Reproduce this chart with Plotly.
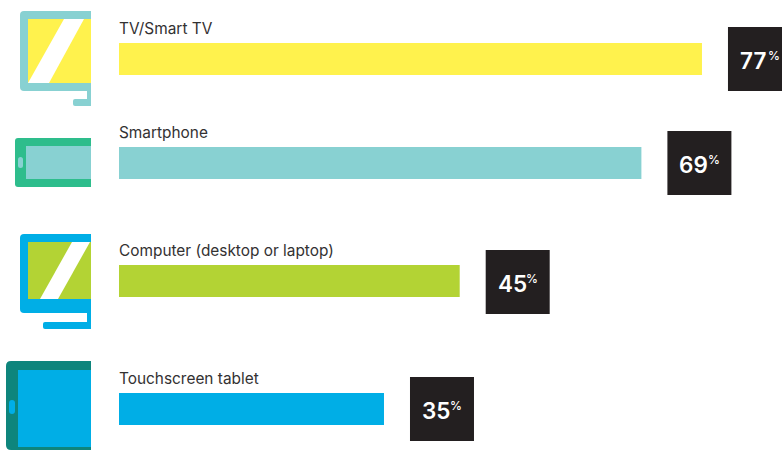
import plotly.graph_objects as go

W, H = 782, 450

# Survey values
categories = ["TV/Smart TV", "Smartphone", "Computer (desktop or laptop)", "Touchscreen tablet"]
shares = [77, 69, 45, 35]
bar_colors = ["#FFF24D", "#88D1D2", "#B3D334", "#00AEE6"]

# Vertical row centres, in pixels from the top
rows = [59, 163, 281, 409]
tile_rows = [59, 163, 282, 409]

PX_PER_UNIT = 7.571
ORIGIN = 119
INK = "#231F20"
FONT = "Inter"

fig = go.Figure()
fig.add_bar(
    x=shares, y=rows, orientation="h", width=32,
    marker=dict(color=bar_colors, line_width=0),
    hoverinfo="skip",
)


def rect(x0, y0, x1, y1, color):
    return dict(type="rect", xref="x2", yref="y", x0=x0, y0=y0, x1=x1, y1=y1,
                fillcolor=color, line_width=0, layer="above")


def rounded_left(x0, y0, x1, y1, r, color):
    path = (f"M {x1} {y0} L {x0 + r} {y0} Q {x0} {y0} {x0} {y0 + r} "
            f"L {x0} {y1 - r} Q {x0} {y1} {x0 + r} {y1} L {x1} {y1} Z")
    return dict(type="path", xref="x2", yref="y", path=path,
                fillcolor=color, line_width=0, layer="above")


def pill(x0, y0, x1, y1, color):
    r = (x1 - x0) / 2
    path = (f"M {x0} {y0 + r} Q {x0} {y0} {x0 + r} {y0} Q {x1} {y0} {x1} {y0 + r} "
            f"L {x1} {y1 - r} Q {x1} {y1} {x0 + r} {y1} Q {x0} {y1} {x0} {y1 - r} Z")
    return dict(type="path", xref="x2", yref="y", path=path,
                fillcolor=color, line_width=0, layer="above")


def poly(points, color):
    path = "M " + " L ".join(f"{x} {y}" for x, y in points) + " Z"
    return dict(type="path", xref="x2", yref="y", path=path,
                fillcolor=color, line_width=0, layer="above")


TEAL, YELLOW, GREEN, LIME, BLUE, DEEP = "#88D1D2", "#FFF24D", "#2EBD8C", "#B3D334", "#00AEE6", "#0E857C"

shapes = [
    # television
    rounded_left(20, 11, 91, 91, 4, TEAL),
    rect(28, 19, 91, 83, YELLOW),
    poly([(64, 19), (84, 19), (49, 83), (28, 83)], "#FFFFFF"),
    rect(87, 91, 91, 106, TEAL),
    rounded_left(73, 99, 91, 106, 2, TEAL),
    # smartphone
    rounded_left(15, 138, 91, 187, 3, GREEN),
    rect(26, 146, 91, 179, TEAL),
    pill(18, 157, 23, 168, TEAL),
    # desktop computer
    rounded_left(20, 234, 91, 313, 4, BLUE),
    rect(28, 242, 91, 299, LIME),
    poly([(72, 242), (90, 242), (58, 299), (40, 299)], "#FFFFFF"),
    rect(87, 313, 91, 322, BLUE),
    rounded_left(43, 322, 91, 329, 2, BLUE),
    # tablet
    rounded_left(6, 361, 91, 450, 5, DEEP),
    rect(18, 370, 91, 447, BLUE),
    pill(9, 400, 15, 414, BLUE),
]

# Dark value tiles sit a fixed pixel distance past each bar's end
for value, row in zip(shares, tile_rows):
    shapes.append(dict(
        type="rect", xref="x", yref="y", xsizemode="pixel", xanchor=value,
        x0=26, x1=90, y0=row - 32, y1=row + 32,
        fillcolor=INK, line_width=0, layer="above",
    ))

annotations = []
for name, value, row, tile in zip(categories, shares, rows, tile_rows):
    annotations.append(dict(
        x=0, y=row, xref="x", yref="y", text=name, showarrow=False,
        xanchor="left", yanchor="middle", xshift=-2, yshift=31,
        font=dict(family=FONT, size=15.4, color="#333132"),
    ))
    annotations.append(dict(
        x=value, y=tile, xref="x", yref="y", text=str(value), showarrow=False,
        xanchor="left", yanchor="middle", xshift=36, yshift=-1,
        font=dict(family=FONT, size=22.5, color="#FFFFFF", weight=600),
    ))
    annotations.append(dict(
        x=value, y=tile, xref="x", yref="y", text="%", showarrow=False,
        xanchor="left", yanchor="middle", xshift=64.5, yshift=4,
        font=dict(family=FONT, size=12, color="#FFFFFF", weight=500),
    ))

fig.update_layout(
    width=W, height=H, margin=dict(l=0, r=0, t=0, b=0),
    paper_bgcolor="#FFFFFF", plot_bgcolor="#FFFFFF", showlegend=False,
    xaxis=dict(range=[-ORIGIN / PX_PER_UNIT, (W - ORIGIN) / PX_PER_UNIT], visible=False, fixedrange=True),
    xaxis2=dict(range=[0, W], overlaying="x", visible=False, fixedrange=True),
    yaxis=dict(range=[H, 0], visible=False, fixedrange=True),
    shapes=shapes, annotations=annotations,
)
fig.write_html("out.html", config={"displayModeBar": False})
